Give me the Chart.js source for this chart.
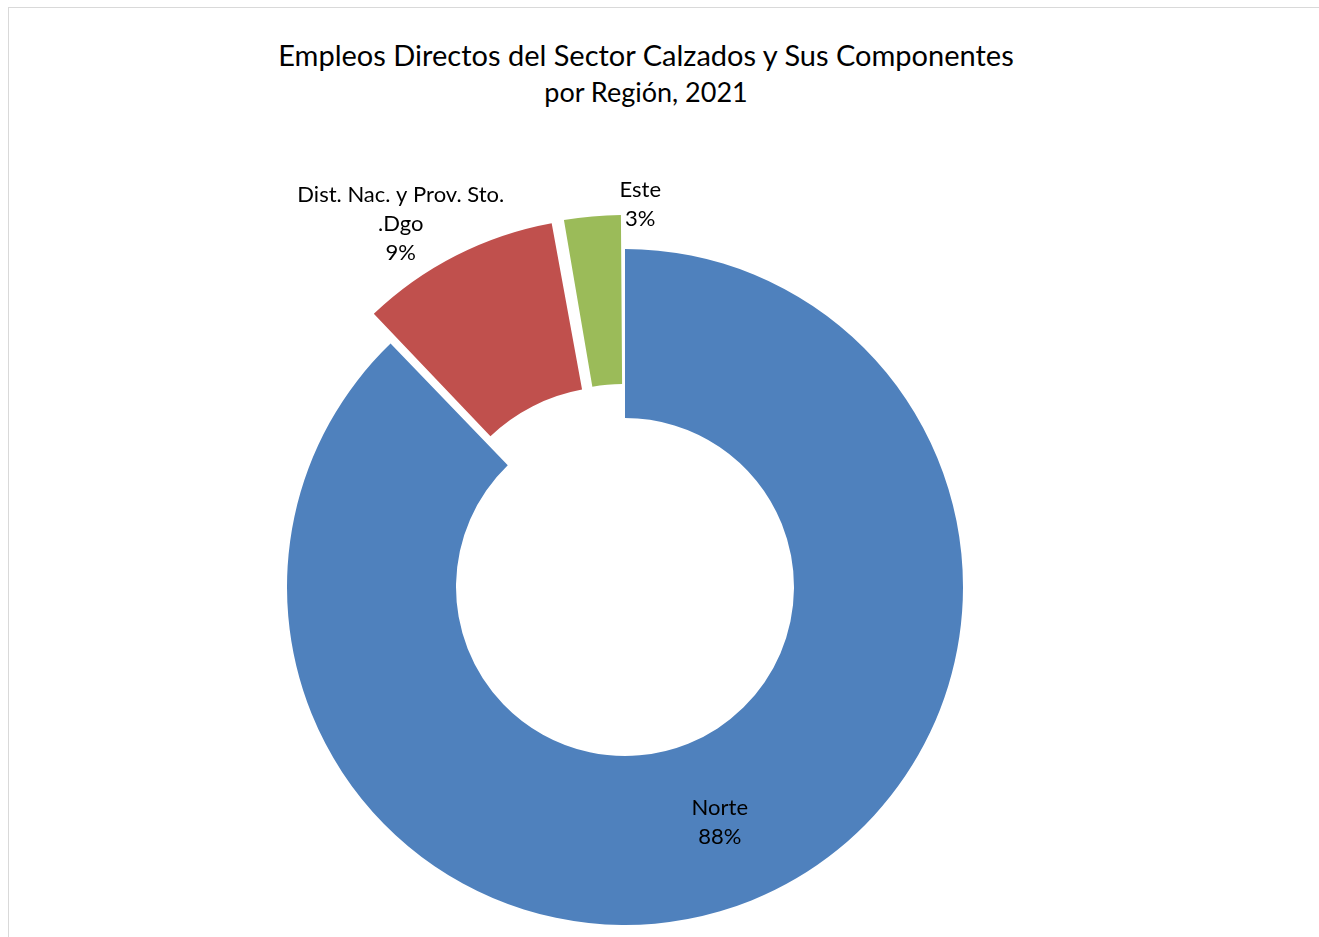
<!DOCTYPE html>
<html lang="es">
<head>
    <meta charset="UTF-8">
    <title>Empleos Directos del Sector Calzados</title>
    <script src="https://cdn.jsdelivr.net/npm/chart.js"></script>
    <style>
        body {
            margin: 0;
            width: 1319px;
            height: 937px;
            overflow: hidden;
            background: #fff;
            font-family: Lato, "Open Sans", sans-serif;
        }
        .frame {
            position: absolute;
            left: 8px;
            top: 7px;
            width: 1400px;
            height: 1000px;
            border: 1px solid #d9d9d9;
        }
        .title {
            position: absolute;
            left: 0;
            width: 1292px;
            text-align: center;
            color: #000;
            line-height: 36px;
        }
        #chart-wrap {
            position: absolute;
            left: 0;
            top: 0;
            width: 1319px;
            height: 937px;
        }
    </style>
</head>
<body>
    <div class="frame"></div>
    <div class="title" style="top: 37px; font-size: 29px;">Empleos Directos del Sector Calzados y Sus Componentes</div>
    <div class="title" style="top: 74px; font-size: 27px;">por Región, 2021</div>
    <div id="chart-wrap"><canvas id="donut"></canvas></div>

    <script>
        // datos (porcentaje de empleos por región)
        const regiones = ['Norte', ['Dist. Nac. y Prov. Sto.', '.Dgo'], 'Este'];
        const empleos = [87.8, 9.4, 2.8];
        const colores = ['#4F81BD', '#C0504D', '#9BBB59'];

        // separación (px) de los sectores destacados
        const explosion = [0, 34, 34];
        // ajuste de las etiquetas exteriores
        const etiquetaDx = [0, -39, 49];
        const etiquetaGap = [0, 36, 12];

        const total = empleos.reduce((a, b) => a + b, 0);

        // Chart.js desplaza offset/4 y además agranda los radios; se compensa
        function offsetSector(c) {
            const d = explosion[c.dataIndex];
            if (!d) return 0;
            const circ = empleos[c.dataIndex] / total * 2 * Math.PI;
            return 4 * d / (2 - Math.sin(Math.min(Math.PI, circ)));
        }

        const etiquetas = {
            id: 'etiquetas',
            afterDatasetsDraw(chart) {
                const ctx = chart.ctx;
                const meta = chart.getDatasetMeta(0);
                ctx.save();
                ctx.font = '22px Lato, "Open Sans", sans-serif';
                ctx.fillStyle = '#000';
                ctx.textAlign = 'center';
                ctx.textBaseline = 'middle';
                meta.data.forEach((arc, i) => {
                    const p = arc.getProps(['x', 'y', 'startAngle', 'endAngle', 'innerRadius', 'outerRadius']);
                    const mid = (p.startAngle + p.endAngle) / 2;
                    let x, y;
                    if (explosion[i] === 0) {
                        const r = (p.innerRadius + p.outerRadius) / 2;
                        x = p.x + Math.cos(mid) * r;
                        y = p.y + Math.sin(mid) * r;
                    } else {
                        const r = p.outerRadius + explosion[i] + etiquetaGap[i];
                        x = p.x + Math.cos(mid) * r + etiquetaDx[i];
                        y = p.y + Math.sin(mid) * r;
                    }
                    const nombre = Array.isArray(regiones[i]) ? regiones[i] : [regiones[i]];
                    const lineas = nombre.concat([Math.round(empleos[i] / total * 100) + '%']);
                    const lh = 29;
                    const y0 = y - (lineas.length - 1) * lh / 2;
                    lineas.forEach((t, k) => ctx.fillText(t, x, y0 + k * lh));
                });
                ctx.restore();
            }
        };

        new Chart(document.getElementById('donut'), {
            type: 'doughnut',
            data: {
                labels: regiones,
                datasets: [{
                    data: empleos,
                    backgroundColor: colores,
                    borderWidth: 0,
                    offset: offsetSector
                }]
            },
            options: {
                responsive: true,
                maintainAspectRatio: false,
                animation: false,
                radius: 338,
                cutout: '50%',
                layout: {
                    padding: { left: 0, right: 69, top: 237, bottom: 0 }
                },
                plugins: {
                    legend: { display: false },
                    tooltip: { enabled: false },
                    title: { display: false }
                }
            },
            plugins: [etiquetas]
        });
    </script>
</body>
</html>
